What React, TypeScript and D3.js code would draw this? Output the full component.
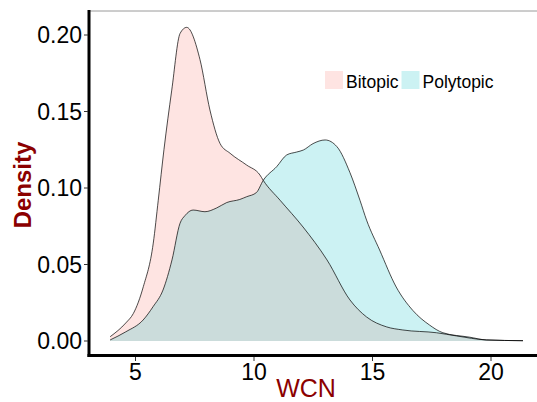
import React from "react";
import * as d3 from "d3";

const bitopicX = [3.93, 4.59, 4.91, 5.33, 5.75, 5.96, 6.2, 6.53, 6.88, 7.16, 7.72, 8.14, 8.57, 8.99, 9.69, 10.25, 10.39, 11.1, 12.07, 13.08, 14.05, 14.75, 15.6, 16.28, 17.7, 18.55, 19.8, 21.35];
const bitopicY = [0.0028, 0.0118, 0.018, 0.0355, 0.064, 0.092, 0.125, 0.164, 0.201, 0.205, 0.184, 0.151, 0.129, 0.1227, 0.115, 0.1085, 0.105, 0.092, 0.0745, 0.053, 0.0268, 0.0157, 0.0092, 0.0072, 0.0054, 0.0033, 0.0007, 0.0002];

const polytopicX = [3.93, 4.59, 5.32, 5.74, 6.16, 6.54, 6.88, 7.09, 7.43, 7.93, 8.43, 8.85, 9.4, 9.69, 10.1, 10.39, 10.96, 11.38, 11.8, 12.08, 12.49, 13.0, 13.5, 14.05, 14.47, 14.75, 15.3, 16.0, 16.7, 17.4, 17.97, 19.1, 19.8, 21.35];
const polytopicY = [0.0007, 0.006, 0.0137, 0.0224, 0.0333, 0.053, 0.077, 0.082, 0.0856, 0.0845, 0.087, 0.0905, 0.0925, 0.0943, 0.097, 0.105, 0.114, 0.1216, 0.1235, 0.1248, 0.129, 0.1314, 0.127, 0.11, 0.092, 0.079, 0.0595, 0.0353, 0.02, 0.0105, 0.0054, 0.0025, 0.0007, 0.0002];

const xTicks = [5, 10, 15, 20];
const yTicks = [0, 0.05, 0.1, 0.15, 0.2];
const groups = ["Bitopic", "Polytopic"];
const colors = ["#F8766D", "#00BFC4"];

export default function App() {
  const W = 537, H = 402;
  const x = d3.scaleLinear().domain([5, 20]).range([135.5, 491]);
  const y = d3.scaleLinear().domain([0, 0.2]).range([341, 35]);
  const font = "'Liberation Sans', Arial, sans-serif";

  const series = [
    bitopicX.map((v, i) => [v, bitopicY[i]] as [number, number]),
    polytopicX.map((v, i) => [v, polytopicY[i]] as [number, number]),
  ];
  const area = d3.area<[number, number]>()
    .x(d => x(d[0])).y0(y(0)).y1(d => y(d[1]))
    .curve(d3.curveMonotoneX);
  const line = d3.line<[number, number]>()
    .x(d => x(d[0])).y(d => y(d[1]))
    .curve(d3.curveMonotoneX);

  const legendX = [325, 401.5];

  return (
    <svg width={W} height={H} style={{ position: "absolute", left: 0, top: 0 }} fontFamily={font}>
      <rect width={W} height={H} fill="#fff" />
      <line x1={90} x2={W} y1={11} y2={11} stroke="#9a9a9a" strokeWidth={1} />
      {series.map((s, i) => (
        <path key={"a" + i} d={area(s) || ""} fill={colors[i]} fillOpacity={0.2} stroke="none" />
      ))}
      {series.map((s, i) => (
        <path key={"l" + i} d={line(s) || ""} fill="none" stroke="#000" strokeWidth={0.7} />
      ))}
      <line x1={89} x2={89} y1={10} y2={357} stroke="#000" strokeWidth={3} />
      <line x1={87.5} x2={W} y1={355.5} y2={355.5} stroke="#000" strokeWidth={3} />
      {yTicks.map(t => (
        <g key={"y" + t}>
          <line x1={84} x2={88} y1={y(t)} y2={y(t)} stroke="#333" strokeWidth={1} />
          <text x={82} y={y(t) + 8.2} textAnchor="end" fontSize={23} fill="#000">{t.toFixed(2)}</text>
        </g>
      ))}
      {xTicks.map(t => (
        <g key={"x" + t}>
          <line x1={x(t)} x2={x(t)} y1={357} y2={361} stroke="#333" strokeWidth={1} />
          <text x={x(t)} y={380} textAnchor="middle" fontSize={23} fill="#000">{t}</text>
        </g>
      ))}
      <text x={306} y={397} textAnchor="middle" fontSize={25} fill="#8B0000">WCN</text>
      <text transform="translate(31,185) rotate(-90)" textAnchor="middle" fontSize={24} fontWeight="bold" fill="#8B0000">Density</text>
      {groups.map((g, i) => (
        <g key={g}>
          <rect x={legendX[i]} y={71} width={18} height={18} fill={colors[i]} fillOpacity={0.2} />
          <text x={legendX[i] + 21} y={87.5} fontSize={17.5} fill="#000">{g}</text>
        </g>
      ))}
    </svg>
  );
}
